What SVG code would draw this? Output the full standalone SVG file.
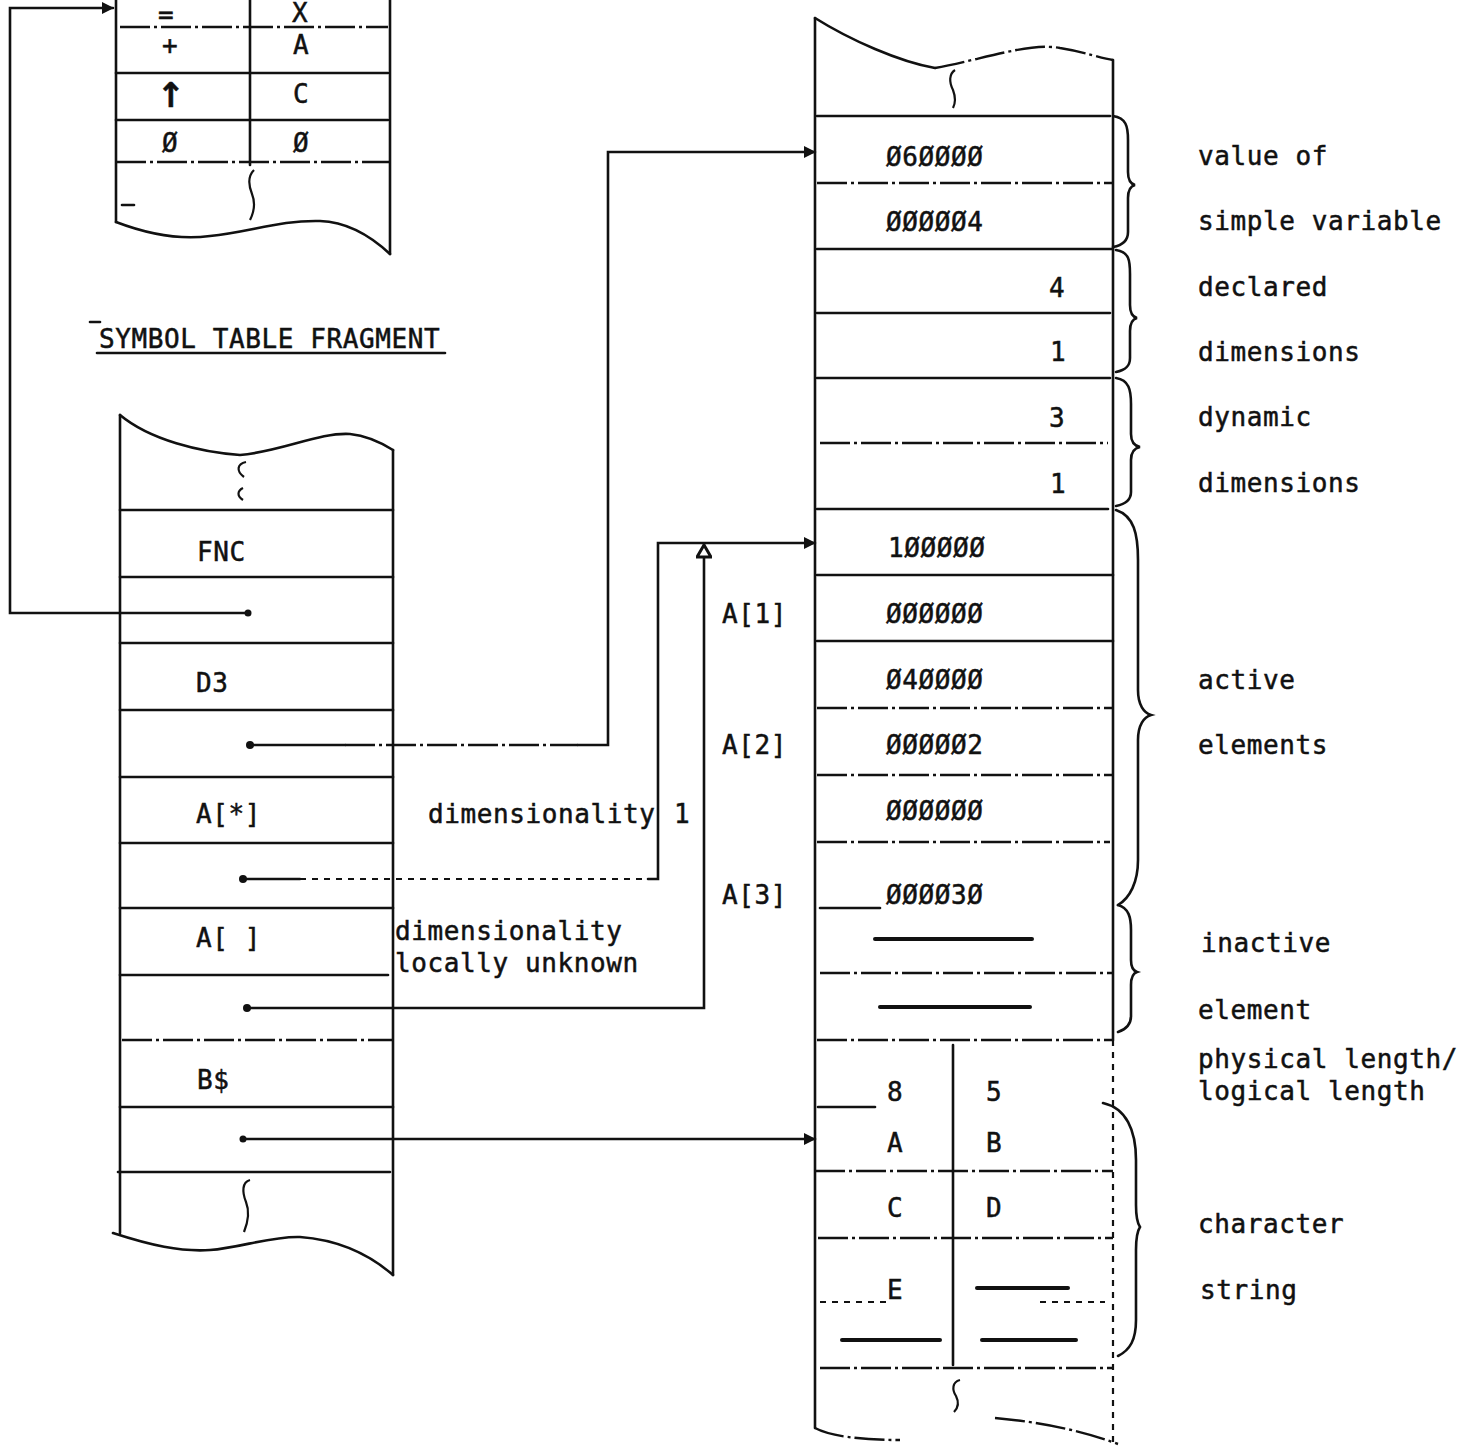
<svg xmlns="http://www.w3.org/2000/svg" width="1469" height="1446" viewBox="0 0 1469 1446">
<defs>
<style>
text{font-family:"DejaVu Sans Mono","Liberation Mono",monospace;font-size:26px;letter-spacing:0.6px;fill:#111;stroke:#111;stroke-width:0.5}
.l{stroke:#111;stroke-width:2.6;fill:none;stroke-linecap:round}
.d{stroke:#111;stroke-width:2.4;fill:none;stroke-dasharray:30 4 3 4}
.dt{stroke:#111;stroke-width:2.2;fill:none;stroke-dasharray:6 6}
.t{stroke:#111;stroke-width:4;fill:none;stroke-linecap:round}
.c{stroke:#111;stroke-width:2.2;fill:none}
.dot{fill:#111}
</style>
<marker id="ah" viewBox="0 0 12 12" refX="11" refY="6" markerWidth="12" markerHeight="12" markerUnits="userSpaceOnUse" orient="auto">
<path d="M0,0 L12,6 L0,12 Z" fill="#111"/>
</marker>
<marker id="ho" viewBox="0 0 16 16" refX="14" refY="8" markerWidth="16" markerHeight="16" markerUnits="userSpaceOnUse" orient="auto">
<path d="M2,1 L14,8 L2,15 Z" fill="#fff" stroke="#111" stroke-width="3"/>
</marker>
</defs>
<rect width="1469" height="1446" fill="#fff"/>

<g id="op-table">
<path class="l" d="M116,0 V222"/>
<path class="l" d="M390,0 V254"/>
<path class="l" d="M250,0 V165"/>
<path class="d" d="M120,27 H388"/>
<path class="l" d="M116,73 H388"/>
<path class="l" d="M116,120 H388"/>
<path class="d" d="M116,162 H390"/>
<path class="l" d="M116,222 C150,235 180,240 210,236 C250,232 280,220 320,221 C350,222 375,240 390,254"/>
<path class="c" d="M254,170 c-6,6 -6,14 -2,24 c4,10 2,18 -2,26"/>
<path class="l" d="M122,205 H134"/>
<text x="158" y="24">=</text>
<text x="292" y="22">X</text>
<text x="162" y="54">+</text>
<text x="293" y="54">A</text>
<text x="171" y="107" text-anchor="middle" font-weight="bold" style="font-family:'DejaVu Sans',sans-serif;font-size:34px;letter-spacing:0">↑</text>
<text x="293" y="103">C</text>
<text x="162" y="152">Ø</text>
<text x="293" y="152">Ø</text>
</g>

<g id="caption">
<text x="99" y="348">SYMBOL TABLE FRAGMENT</text>
<path class="l" d="M97,353 H445"/>
<path class="l" d="M90,322 H100"/>
</g>

<g id="symbol-table">
<path class="l" d="M120,415 V1233"/>
<path class="l" d="M393,450 V1275"/>
<path class="l" d="M120,415 C150,440 200,452 240,455 C280,452 320,432 350,434 C370,436 385,445 393,450"/>
<path class="l" d="M113,1233 C150,1245 180,1252 210,1250 C240,1248 270,1236 300,1237 C340,1240 370,1255 393,1275"/>
<path class="c" d="M246,462 c-9,2 -10,9 -2,15"/>
<path class="c" d="M243,488 c-6,3 -6,8 0,12"/>
<path class="c" d="M250,1180 c-8,2 -8,12 -4,22 c4,10 2,20 -2,30"/>
<path class="l" d="M120,510 H393"/>
<path class="l" d="M120,577 H393"/>
<path class="l" d="M120,643 H393"/>
<path class="l" d="M120,710 H393"/>
<path class="l" d="M120,777 H393"/>
<path class="l" d="M120,843 H393"/>
<path class="l" d="M120,908 H393"/>
<path class="l" d="M120,975 H388"/>
<path class="d" d="M122,1040 H393"/>
<path class="l" d="M120,1107 H393"/>
<path class="l" d="M118,1172 H390"/>
<text x="197" y="561">FNC</text>
<text x="196" y="692">D3</text>
<text x="196" y="823">A[*]</text>
<text x="196" y="947">A[ ]</text>
<text x="197" y="1089">B$</text>
</g>

<g id="notes">
<text x="428" y="823">dimensionality</text>
<text x="674" y="823">1</text>
<text x="395" y="940">dimensionality</text>
<text x="395" y="972">locally unknown</text>
<text x="722" y="623">A[1]</text>
<text x="722" y="754">A[2]</text>
<text x="722" y="904">A[3]</text>
</g>

<g id="storage">
<path class="l" d="M815,18 V1428"/>
<path class="l" d="M1113,60 V1040"/>
<path class="dt" d="M1113,1040 V1445"/>
<path class="l" d="M815,18 C850,40 900,62 935,68"/>
<path class="d" d="M935,68 C980,60 1030,42 1060,48 C1085,52 1100,58 1113,60"/>
<path class="c" d="M955,70 c-6,4 -6,12 -2,20 c3,8 2,14 0,18"/>
<path class="l" d="M817,116 H1110"/>
<path class="d" d="M817,183 H1113"/>
<path class="l" d="M817,249 H1113"/>
<path class="l" d="M817,313 H1110"/>
<path class="l" d="M817,378 H1110"/>
<path class="d" d="M820,443 H1108"/>
<path class="l" d="M817,509 H1108"/>
<path class="l" d="M817,575 H1113"/>
<path class="l" d="M817,641 H1113"/>
<path class="d" d="M817,708 H1113"/>
<path class="d" d="M817,775 H1113"/>
<path class="d" d="M817,842 H1110"/>
<path class="l" d="M820,908 H880"/>
<path class="t" d="M875,939 H1032"/>
<path class="d" d="M820,973 H1113"/>
<path class="t" d="M880,1007 H1030"/>
<path class="d" d="M817,1040 H1113"/>
<path class="l" d="M953,1045 V1365"/>
<path class="l" d="M818,1107 H875"/>
<path class="d" d="M815,1171 H1113"/>
<path class="d" d="M818,1238 H1113"/>
<path class="dt" d="M820,1302 H890"/>
<path class="dt" d="M1040,1302 H1105"/>
<path class="t" d="M977,1288 H1068"/>
<path class="t" d="M842,1340 H940"/>
<path class="t" d="M982,1340 H1076"/>
<path class="d" d="M820,1368 H1113"/>
<path class="c" d="M960,1380 c-8,2 -8,10 -4,16 c3,6 2,12 -2,16"/>
<path class="d" d="M815,1428 C830,1436 860,1440 900,1440"/>
<path class="d" d="M995,1418 C1040,1422 1080,1430 1118,1444"/>
<text x="886" y="166">Ø6ØØØØ</text>
<text x="886" y="231">ØØØØØ4</text>
<text x="1049" y="297">4</text>
<text x="1050" y="361">1</text>
<text x="1049" y="427">3</text>
<text x="1050" y="493">1</text>
<text x="888" y="557">1ØØØØØ</text>
<text x="886" y="623">ØØØØØØ</text>
<text x="886" y="689">Ø4ØØØØ</text>
<text x="886" y="754">ØØØØØ2</text>
<text x="886" y="820">ØØØØØØ</text>
<text x="886" y="904">ØØØØ3Ø</text>
<text x="887" y="1101">8</text>
<text x="986" y="1101">5</text>
<text x="887" y="1152">A</text>
<text x="986" y="1152">B</text>
<text x="887" y="1217">C</text>
<text x="986" y="1217">D</text>
<text x="887" y="1299">E</text>
</g>

<g id="braces">
<path class="l" d="M1113,116 C1126,118 1128,126 1128,140 L1128,172 C1128,180 1131,184 1135,185 C1131,186 1128,190 1128,198 L1128,232 C1128,240 1124,245 1113,247"/>
<path class="l" d="M1116,250 C1129,252 1130,260 1130,274 L1130,305 C1130,313 1133,317 1137,318 C1133,319 1130,323 1130,331 L1130,358 C1130,366 1126,370 1116,372"/>
<path class="l" d="M1116,378 C1129,380 1131,390 1131,404 L1131,434 C1131,442 1135,446 1140,447 C1135,448 1131,452 1131,460 L1131,492 C1131,500 1126,504 1116,506"/>
<path class="l" d="M1116,510 C1134,516 1138,534 1138,560 L1138,690 C1138,705 1144,713 1151,715 C1144,717 1138,725 1138,740 L1138,860 C1138,882 1130,898 1118,905"/>
<path class="l" d="M1118,905 C1129,908 1131,918 1131,930 L1131,960 C1131,968 1134,971 1137,972 C1134,973 1131,977 1131,985 L1131,1016 C1131,1024 1127,1029 1118,1032"/>
<path class="l" d="M1103,1103 C1126,1108 1136,1130 1136,1160 L1136,1205 C1136,1218 1138,1224 1140,1227 C1138,1230 1136,1236 1136,1250 L1136,1320 C1136,1340 1130,1350 1118,1356"/>
</g>

<g id="labels">
<text x="1198" y="165">value of</text>
<text x="1198" y="230">simple variable</text>
<text x="1198" y="296">declared</text>
<text x="1198" y="361">dimensions</text>
<text x="1198" y="426">dynamic</text>
<text x="1198" y="492">dimensions</text>
<text x="1198" y="689">active</text>
<text x="1198" y="754">elements</text>
<text x="1201" y="952">inactive</text>
<text x="1198" y="1019">element</text>
<text x="1198" y="1068">physical length/</text>
<text x="1198" y="1100">logical length</text>
<text x="1198" y="1233">character</text>
<text x="1200" y="1299">string</text>
</g>

<g id="connectors">
<circle class="dot" cx="248" cy="613" r="3.5"/>
<path class="l" d="M248,613 H10 V8 H113" marker-end="url(#ah)"/>
<circle class="dot" cx="250" cy="745" r="4"/>
<path class="l" d="M250,745 H345"/>
<path class="d" d="M345,745 H578"/>
<path class="l" d="M578,745 H608 V152 H815" marker-end="url(#ah)"/>
<circle class="dot" cx="243" cy="879" r="4"/>
<path class="l" d="M243,879 H300"/>
<path class="dt" d="M300,879 H648"/>
<path class="l" d="M648,879 H658 V543 H815" marker-end="url(#ah)"/>
<circle class="dot" cx="247" cy="1008" r="4"/>
<path class="l" d="M247,1008 H704 V545" marker-end="url(#ho)"/>
<circle class="dot" cx="243" cy="1139" r="3.5"/>
<path class="l" d="M243,1139 H815" marker-end="url(#ah)"/>
</g>
</svg>
